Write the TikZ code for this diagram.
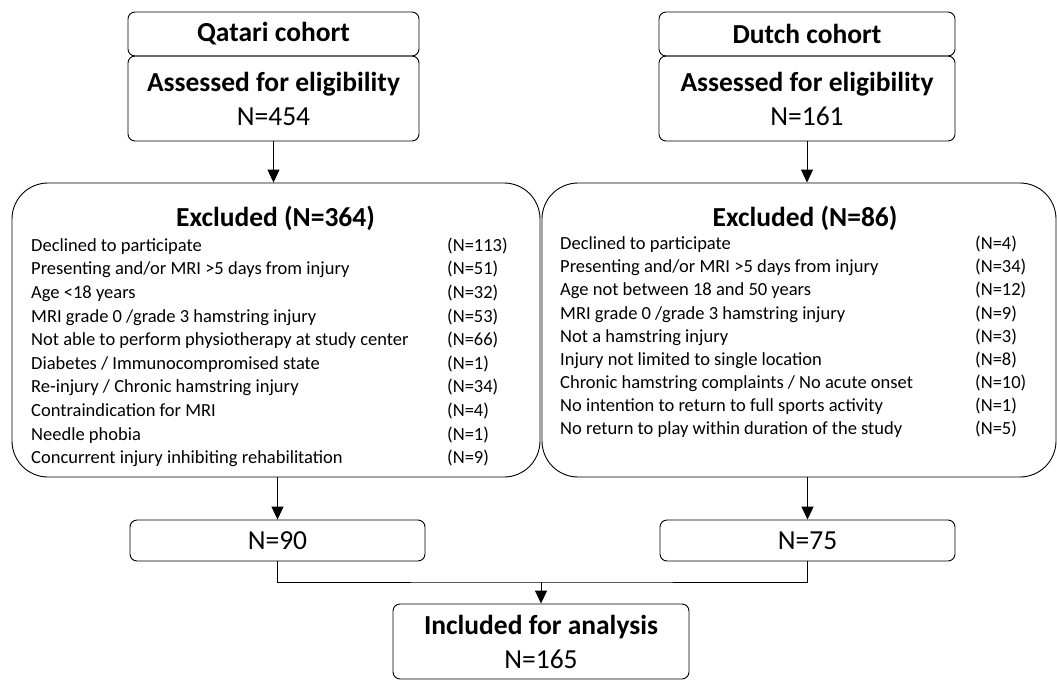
\documentclass[tikz,border=0pt]{standalone}
\usepackage{fontspec}
\setmainfont{Carlito}
\usetikzlibrary{arrows.meta,positioning}

\tikzset{
  box/.style={draw, rounded corners=7pt, line width=0.9pt, align=center, inner sep=0pt},
  bigbox/.style={draw, rounded corners=36pt, line width=0.9pt, inner sep=0pt},
  head/.style={font=\bfseries\fontsize{27.5}{30}\selectfont},
  big/.style={font=\fontsize{27.5}{34}\selectfont},
  title/.style={anchor=base, inner sep=0pt, font=\bfseries\fontsize{27.5}{30}\selectfont},
  item/.style={anchor=base west, inner sep=0pt, font=\fontsize{18.5}{20}\selectfont},
  flow/.style={line width=0.9pt, -{Triangle[width=12pt,length=13pt]}},
}

\begin{document}
\begin{tikzpicture}[x=1pt,y=-1pt]
	%%%%% FRAME %%%%%
	\useasboundingbox (0,0) rectangle (1057,680);

	%%%%% QATARI %%%%%
	\node[box, head, minimum width=291pt, minimum height=44pt] (qcoh) at (273.5,34) {Qatari cohort};
	\node[box, big, minimum width=291pt, minimum height=85pt] (qass) at (273.5,98.5) {\textbf{Assessed for eligibility}\\N=454};
	\node[bigbox, minimum width=528pt, minimum height=294pt] (qexc) at (276,330) {};
	\node[title] (qtit) at (275.5,226) {Excluded (N=364)};

	\node[item] (qr1) at (31,251.2) {Declined to participate};
	\node[item] (qr2) at (31,274.8) {Presenting and/or MRI >5 days from injury};
	\node[item] (qr3) at (31,298.4) {Age <18 years};
	\node[item] (qr4) at (31,322) {MRI grade 0 /grade 3 hamstring injury};
	\node[item] (qr5) at (31,345.6) {Not able to perform physiotherapy at study center};
	\node[item] (qr6) at (31,369.2) {Diabetes / Immunocompromised state};
	\node[item] (qr7) at (31,392.8) {Re-injury / Chronic hamstring injury};
	\node[item] (qr8) at (31,416.4) {Contraindication for MRI};
	\node[item] (qr9) at (31,440) {Needle phobia};
	\node[item] (qr10) at (31,463.6) {Concurrent injury inhibiting rehabilitation};

	\node[item] (qc1) at (447,251.2) {(N=113)};
	\node[item] (qc2) at (447,274.8) {(N=51)};
	\node[item] (qc3) at (447,298.4) {(N=32)};
	\node[item] (qc4) at (447,322) {(N=53)};
	\node[item] (qc5) at (447,345.6) {(N=66)};
	\node[item] (qc6) at (447,369.2) {(N=1)};
	\node[item] (qc7) at (447,392.8) {(N=34)};
	\node[item] (qc8) at (447,416.4) {(N=4)};
	\node[item] (qc9) at (447,440) {(N=1)};
	\node[item] (qc10) at (447,463.6) {(N=9)};

	\node[box, big, minimum width=295pt, minimum height=41pt] (qn) at (277.5,540.5) {N=90};

	%%%%% DUTCH %%%%%
	\node[box, head, minimum width=296pt, minimum height=44pt] (dcoh) at (807,34) {Dutch cohort};
	\node[box, big, minimum width=296pt, minimum height=85pt] (dass) at (807,98.5) {\textbf{Assessed for eligibility}\\N=161};
	\node[bigbox, minimum width=514pt, minimum height=294pt] (dexc) at (799,330) {};
	\node[title] (dtit) at (805,226) {Excluded (N=86)};

	\node[item] (dr1) at (560,249.7) {Declined to participate};
	\node[item] (dr2) at (560,272.8) {Presenting and/or MRI >5 days from injury};
	\node[item] (dr3) at (560,295.9) {Age not between 18 and 50 years};
	\node[item] (dr4) at (560,319) {MRI grade 0 /grade 3 hamstring injury};
	\node[item] (dr5) at (560,342.1) {Not a hamstring injury};
	\node[item] (dr6) at (560,365.2) {Injury not limited to single location};
	\node[item] (dr7) at (560,388.3) {Chronic hamstring complaints / No acute onset};
	\node[item] (dr8) at (560,411.4) {No intention to return to full sports activity};
	\node[item] (dr9) at (560,434.5) {No return to play within duration of the study};

	\node[item] (dc1) at (975,249.7) {(N=4)};
	\node[item] (dc2) at (975,272.8) {(N=34)};
	\node[item] (dc3) at (975,295.9) {(N=12)};
	\node[item] (dc4) at (975,319) {(N=9)};
	\node[item] (dc5) at (975,342.1) {(N=3)};
	\node[item] (dc6) at (975,365.2) {(N=8)};
	\node[item] (dc7) at (975,388.3) {(N=10)};
	\node[item] (dc8) at (975,411.4) {(N=1)};
	\node[item] (dc9) at (975,434.5) {(N=5)};

	\node[box, big, minimum width=295pt, minimum height=41pt] (dn) at (807.5,540.5) {N=75};

	%%%%% RESULT %%%%%
	\node[box, big, minimum width=296pt, minimum height=75pt] (inc) at (541,641.5) {\textbf{Included for analysis}\\N=165};
	\coordinate (join) at (541,582);

	\draw[flow] (qass.south) -- (qass.south |- qexc.north);
	\draw[flow] (dass.south) -- (dass.south |- dexc.north);
	\draw[flow] (qn.north |- qexc.south) -- (qn.north);
	\draw[flow] (dn.north |- dexc.south) -- (dn.north);
	\draw[line width=0.9pt] (qn.south) |- (join) -| (dn.south);
	\draw[flow] (join) -- (inc.north);
\end{tikzpicture}
\end{document}
